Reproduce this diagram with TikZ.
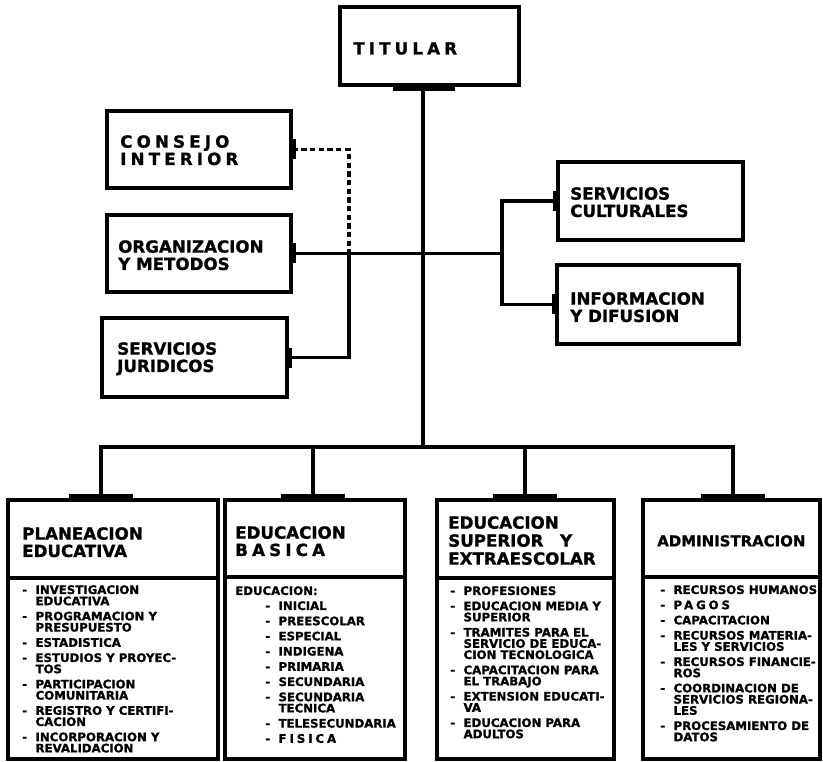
\documentclass[tikz,border=0pt]{standalone}
\usepackage{fontspec}
\setmainfont{DejaVu Sans}[BoldFeatures={FakeBold=1.2}]
\newfontfamily\spacedfont{DejaVu Sans}[LetterSpace=25, BoldFeatures={FakeBold=1.2}]
\usepackage{tikz}
\usetikzlibrary{fit}

\newcommand{\itemline}[1]{\makebox[10pt][l]{-}#1}
\newcommand{\wrapline}[1]{\hspace*{10pt}#1}

\tikzset{
  box/.style={draw, line width=2.6pt, inner sep=0pt},
  trunk/.style={line width=3.4pt},
  branch/.style={line width=2.8pt},
  link/.style={line width=2.6pt, dash pattern=on 4pt off 2.5pt},
  tick/.style={line width=3.8pt},
  head/.style={anchor=north west, inner sep=0pt, align=left, font=\fontsize{12.5}{13}\selectfont\bfseries},
  items/.style={anchor=north west, inner sep=0pt, align=left, font=\fontsize{8.8}{8.4}\selectfont\bfseries},
}

\begin{document}
\begin{tikzpicture}[x=0.75pt,y=0.75pt,yscale=-1,xscale=1]
\useasboundingbox (0,0) rectangle (823,762);

%Shape: Rectangle [titular]
\node[box, fit={(340,7) (519,85)}] (titular) {};
%Shape: Rectangle [staff, left]
\node[box, fit={(107,111) (291,188)}] (consejo) {};
\node[box, fit={(107,215) (291,292)}] (organiz) {};
\node[box, fit={(102,318) (287,397)}] (juridic) {};
%Shape: Rectangle [staff, right]
\node[box, fit={(558,162) (743,240)}] (cultur) {};
\node[box, fit={(557,265) (739,344)}] (inform) {};
%Shape: Rectangle [directions, head and list]
\node[box, fit={(8,500) (218,578)}] (plan) {};
\node[box, fit={(8,578) (218,759)}] (planlist) {};
\node[box, fit={(225,500) (405,577)}] (basic) {};
\node[box, fit={(225,577) (405,759)}] (basiclist) {};
\node[box, fit={(437,500) (614,578)}] (super) {};
\node[box, fit={(437,578) (614,759)}] (superlist) {};
\node[box, fit={(643,500) (820,577)}] (admin) {};
\node[box, fit={(643,577) (820,759)}] (adminlist) {};

\coordinate (hub) at (423,447);
\coordinate (lft) at (349,253.5);
\coordinate (rgt) at (502,253.5);
\coordinate (b1) at (101,447);
\coordinate (b2) at (313,447);
\coordinate (b3) at (525,447);
\coordinate (b4) at (733,447);

%Straight Lines [trunk]
\draw[trunk] (titular.south -| hub) -- (hub);
\draw[trunk] (b1 |- plan.north) -- (b1) -- (b4) -- (b4 |- admin.north);
\draw[trunk] (b2) -- (b2 |- basic.north);
\draw[trunk] (b3) -- (b3 |- super.north);
%Straight Lines [staff]
\draw[link] (consejo.east) -| (lft);
\draw[branch] (organiz.east) -- (rgt);
\draw[branch] (lft) |- (juridic.east);
\draw[branch] (cultur.west) -| (rgt) |- (inform.west);

%Straight Lines [ticks]
\draw[tick] (titular.south -| hub) ++(-30,2) -- ++(62,0);
\foreach \b/\n in {b1/plan, b2/basic, b3/super, b4/admin}
  \draw[tick] (\b |- \n.north) ++(-32,-2) -- ++(64,0);
\foreach \n in {consejo, organiz, juridic}
  \draw[tick] (\n.east) ++(1,-10) -- ++(0,20);
\foreach \n in {cultur, inform}
  \draw[tick] (\n.west) ++(-1,-10) -- ++(0,20);

% Text Node
\node[head] (ttitular) at (353,42) {\spacedfont TITULAR};
\node[head] (tconsejo) at (120,135) {\spacedfont CONSEJO\\\spacedfont INTERIOR};
\node[head] (torganiz) at (118,240) {ORGANIZACION\\Y METODOS};
\node[head] (tjuridic) at (117,342) {SERVICIOS\\JURIDICOS};
\node[head] (tcultur) at (570,187) {SERVICIOS\\CULTURALES};
\node[head] (tinform) at (570,292) {INFORMACION\\Y DIFUSION};
% Text Node
\node[head] (tplan) at (22,527) {PLANEACION\\EDUCATIVA};
\node[head] (tbasic) at (235,526) {EDUCACION\\\spacedfont BASICA};
\node[head, font=\fontsize{12.5}{13.5}\selectfont\bfseries] (tsuper) at (448,516) {EDUCACION\\SUPERIOR\quad Y\\EXTRAESCOLAR};
\node[head, font=\fontsize{11.2}{13}\selectfont\bfseries] (tadmin) at (657,535) {ADMINISTRACION};

% Text Node
\node[items] (lplan) at (22,585) {
 \itemline{INVESTIGACION}\\ \wrapline{EDUCATIVA}\\[3pt]
 \itemline{PROGRAMACION Y}\\ \wrapline{PRESUPUESTO}\\[3pt]
 \itemline{ESTADISTICA}\\[3pt]
 \itemline{ESTUDIOS Y PROYEC-}\\ \wrapline{TOS}\\[3pt]
 \itemline{PARTICIPACION}\\ \wrapline{COMUNITARIA}\\[3pt]
 \itemline{REGISTRO Y CERTIFI-}\\ \wrapline{CACION}\\[3pt]
 \itemline{INCORPORACION Y}\\ \wrapline{REVALIDACION}};
\node[items] (leduc) at (235,586) {EDUCACION:};
\node[items] (lbasic) at (265,601) {
 \itemline{INICIAL}\\[3pt]
 \itemline{PREESCOLAR}\\[3pt]
 \itemline{ESPECIAL}\\[3pt]
 \itemline{INDIGENA}\\[3pt]
 \itemline{PRIMARIA}\\[3pt]
 \itemline{SECUNDARIA}\\[3pt]
 \itemline{SECUNDARIA}\\ \wrapline{TECNICA}\\[3pt]
 \itemline{TELESECUNDARIA}\\[3pt]
 \itemline{\spacedfont FISICA}};
\node[items] (lsuper) at (450,586) {
 \itemline{PROFESIONES}\\[3pt]
 \itemline{EDUCACION MEDIA Y}\\ \wrapline{SUPERIOR}\\[3pt]
 \itemline{TRAMITES PARA EL}\\ \wrapline{SERVICIO DE EDUCA-}\\ \wrapline{CION TECNOLOGICA}\\[3pt]
 \itemline{CAPACITACION PARA}\\ \wrapline{EL TRABAJO}\\[3pt]
 \itemline{EXTENSION EDUCATI-}\\ \wrapline{VA}\\[3pt]
 \itemline{EDUCACION PARA}\\ \wrapline{ADULTOS}};
\node[items] (ladmin) at (660,585) {
 \itemline{RECURSOS HUMANOS}\\[3pt]
 \itemline{\spacedfont PAGOS}\\[3pt]
 \itemline{CAPACITACION}\\[3pt]
 \itemline{RECURSOS MATERIA-}\\ \wrapline{LES Y SERVICIOS}\\[3pt]
 \itemline{RECURSOS FINANCIE-}\\ \wrapline{ROS}\\[3pt]
 \itemline{COORDINACION DE}\\ \wrapline{SERVICIOS REGIONA-}\\ \wrapline{LES}\\[3pt]
 \itemline{PROCESAMIENTO DE}\\ \wrapline{DATOS}};

\end{tikzpicture}
\end{document}
